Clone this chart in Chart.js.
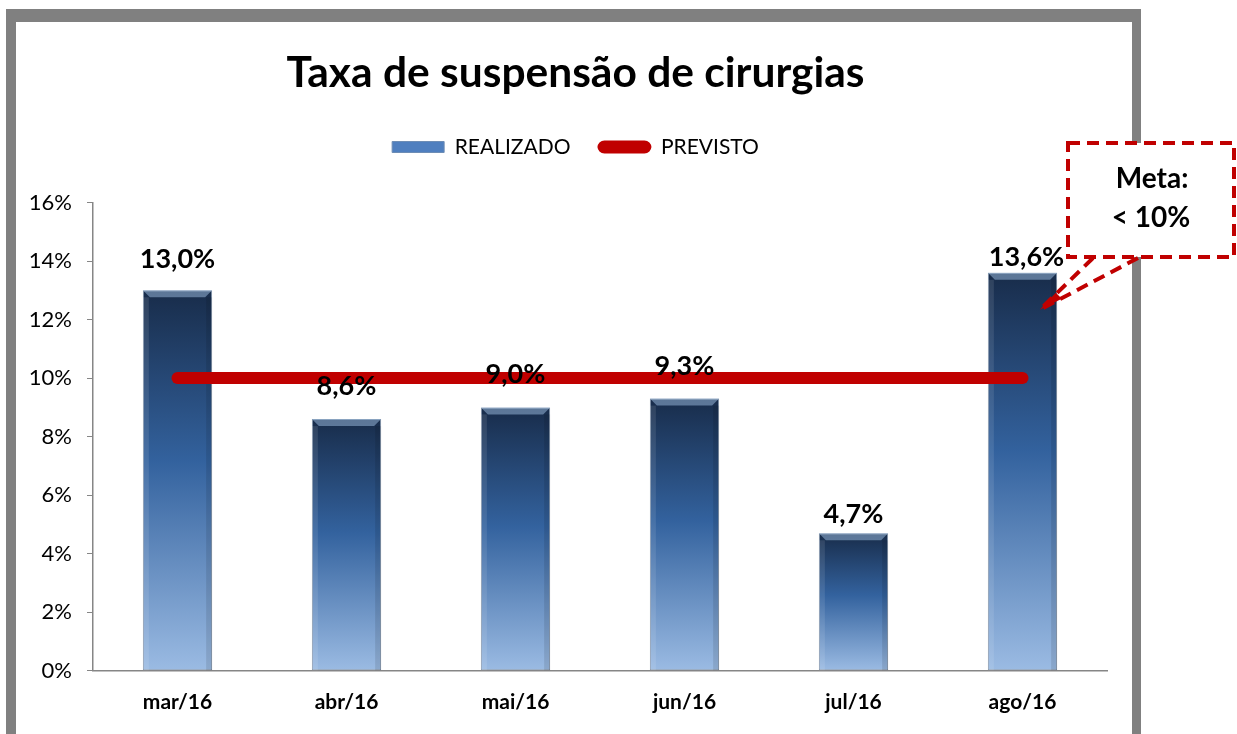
<!DOCTYPE html>
<html>
<head>
<meta charset="utf-8">
<script src="https://cdn.jsdelivr.net/npm/chart.js@4"></script>
<style>
  html, body { margin: 0; padding: 0; background: #fff; overflow: hidden; }
  #frame {
    position: absolute; left: 6px; top: 9px; width: 1135px; height: 735px;
    box-sizing: border-box; border: 10px solid #808080;
    border-top-width: 13px; border-right-width: 9px;
  }
  #chart { position: absolute; left: 0; top: 0; }
</style>
</head>
<body>
<div id="frame"></div>
<canvas id="chart" width="1237" height="740"></canvas>
<script>
/* Taxa de suspensão de cirurgias — bar + target line */

const MONTHS    = ['mar/16', 'abr/16', 'mai/16', 'jun/16', 'jul/16', 'ago/16'];
const REALIZADO = [13.0, 8.6, 9.0, 9.3, 4.7, 13.6];
const PREVISTO  = [10, 10, 10, 10, 10, 10];
const Y_TICKS   = [0, 2, 4, 6, 8, 10, 12, 14, 16];

// gap (px) between bar top and centre of its value label
const LABEL_GAP = [31, 33, 33, 32, 19, 15];

const FONT = 'Lato';
const RED  = '#c00000';

function barGradient(ctx) {
  const chart = ctx.chart;
  const area = chart.chartArea;
  if (!area || ctx.type !== 'data') return '#3b6aa8';
  const yScale = chart.scales.y;
  const top = yScale.getPixelForValue(ctx.raw);
  const bottom = yScale.getPixelForValue(0);
  const g = chart.ctx.createLinearGradient(0, top, 0, bottom);
  g.addColorStop(0, '#182c4a');
  g.addColorStop(0.45, '#33629e');
  g.addColorStop(1, '#9bbbe3');
  return g;
}

// pad the legend so the plot starts lower
const legendSpacer = {
  id: 'legendSpacer',
  beforeInit(chart) {
    const fit = chart.legend.fit;
    chart.legend.fit = function () {
      fit.bind(chart.legend)();
      this.height += 35;
    };
  },
  // title + legend sit a bit right of the plot centre in the original
  afterLayout(chart) {
    [chart.titleBlock, chart.legend].forEach(box => {
      if (!box) return;
      box.left += 22;
      box.right += 22;
    });
  }
};

// light bevel on each bar
const barBevel = {
  id: 'barBevel',
  afterDatasetDraw(chart, args) {
    if (args.index !== 0) return;
    const ctx = chart.ctx;
    args.meta.data.forEach(bar => {
      const l = bar.x - bar.width / 2, r = bar.x + bar.width / 2;
      const t = bar.y, b = bar.base;
      ctx.save();
      ctx.fillStyle = 'rgba(150,180,215,0.55)';
      ctx.beginPath();
      ctx.moveTo(l, t); ctx.lineTo(r, t); ctx.lineTo(r - 7, t + 7); ctx.lineTo(l + 7, t + 7);
      ctx.closePath(); ctx.fill();
      ctx.fillStyle = 'rgba(255,255,255,0.10)';
      ctx.fillRect(l, t + 7, 6, b - t - 7);
      ctx.fillStyle = 'rgba(0,0,0,0.10)';
      ctx.fillRect(r - 6, t + 7, 6, b - t - 7);
      ctx.restore();
    });
  }
};

// value labels above bars + the "Meta" callout
const overlay = {
  id: 'overlay',
  afterDraw(chart) {
    const ctx = chart.ctx;
    const bars = chart.getDatasetMeta(0).data;
    ctx.save();
    ctx.fillStyle = '#000';
    ctx.font = `bold 27px ${FONT}`;
    ctx.textAlign = 'center';
    ctx.textBaseline = 'middle';
    bars.forEach((bar, i) => {
      const txt = REALIZADO[i].toFixed(1).replace('.', ',') + '%';
      ctx.fillText(txt, bar.x + (i === 5 ? 4 : 0), bar.y - LABEL_GAP[i]);
    });

    // callout
    const last = bars[bars.length - 1];
    const tipX = last.x + last.width * 0.25;
    const tipY = last.y + 37;
    const bx = 1068, by = 143, bw = 166, bh = 114;
    ctx.fillStyle = '#fff';
    ctx.fillRect(bx, by, bw, bh);
    ctx.strokeStyle = RED;
    ctx.lineWidth = 4;
    ctx.setLineDash([12, 7]);
    ctx.strokeRect(bx, by, bw, bh);
    ctx.beginPath();
    ctx.moveTo(bx + 25, by + bh + 1); ctx.lineTo(tipX, tipY);
    ctx.moveTo(bx + 70, by + bh + 1); ctx.lineTo(tipX, tipY);
    ctx.stroke();
    ctx.setLineDash([]);
    ctx.fillStyle = RED;
    ctx.beginPath();
    ctx.moveTo(tipX, tipY);
    ctx.lineTo(tipX + 16, tipY - 17);
    ctx.lineTo(tipX + 22, tipY - 11);
    ctx.closePath(); ctx.fill();

    ctx.fillStyle = '#000';
    ctx.font = `bold 28px ${FONT}`;
    ctx.fillText('Meta:', bx + 84, 179);
    ctx.fillText('< 10%', bx + 83, 218);
    ctx.restore();
  }
};

new Chart(document.getElementById('chart').getContext('2d'), {
  data: {
    labels: MONTHS,
    datasets: [
      {
        type: 'bar',
        label: 'REALIZADO',
        data: REALIZADO,
        backgroundColor: barGradient,
        borderColor: 'rgba(110,130,155,0.9)',
        borderWidth: 1,
        borderSkipped: false,
        barPercentage: 0.41,
        categoryPercentage: 1,
        order: 1
      },
      {
        type: 'line',
        label: 'PREVISTO',
        data: PREVISTO,
        borderColor: RED,
        backgroundColor: RED,
        borderWidth: 12,
        borderCapStyle: 'round',
        pointRadius: 0,
        fill: false,
        order: 0
      }
    ]
  },
  options: {
    responsive: false,
    animation: false,
    layout: { padding: { left: 0, right: 130, top: 0, bottom: 6 } },
    plugins: {
      title: {
        display: true,
        text: 'Taxa de suspensão de cirurgias',
        color: '#000',
        font: { family: FONT, size: 42.5, weight: 'bold' },
        padding: { top: 47.5, bottom: 10 }
      },
      legend: {
        display: true,
        labels: {
          color: '#000',
          font: { family: FONT, size: 21 },
          boxWidth: 52,
          boxHeight: 11,
          padding: 28,
          generateLabels: () => [
            { text: 'REALIZADO', fillStyle: '#4f7fbf', strokeStyle: '#6d8db5',
              lineWidth: 1, datasetIndex: 0, fontColor: '#000' },
            { text: 'PREVISTO', fillStyle: RED, strokeStyle: RED,
              lineWidth: 2, borderRadius: 6, datasetIndex: 1, fontColor: '#000' }
          ]
        }
      },
      tooltip: { enabled: false }
    },
    scales: {
      x: {
        grid: { display: false, drawTicks: false },
        border: { display: true, color: '#868686', width: 1.5 },
        ticks: {
          color: '#000',
          padding: 19,
          font: { family: FONT, size: 21, weight: 'bold' }
        }
      },
      y: {
        min: Y_TICKS[0],
        max: Y_TICKS[Y_TICKS.length - 1],
        afterFit(scale) { scale.width = 93; },
        afterBuildTicks(scale) { scale.ticks = Y_TICKS.map(v => ({ value: v })); },
        grid: { drawOnChartArea: false, drawTicks: true, tickLength: 6, color: '#868686' },
        border: { display: true, color: '#868686', width: 1.5 },
        ticks: {
          color: '#000',
          padding: 15,
          font: { family: FONT, size: 22 },
          callback: v => v + '%'
        }
      }
    }
  },
  plugins: [legendSpacer, barBevel, overlay]
});
</script>
</body>
</html>
